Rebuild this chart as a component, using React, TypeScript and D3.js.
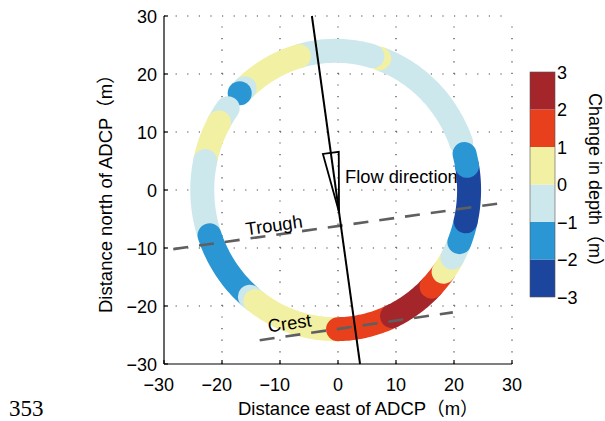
import React from "react";
import * as d3 from "d3";

// ---- data ----
const xTicks = [-30, -20, -10, 0, 10, 20, 30];
const yTicks = [-30, -20, -10, 0, 10, 20, 30];
const gridValues = [-20, -10, 0, 10, 20, 30];
const colorBounds = [-3, -2, -1, 0, 1, 2, 3];
const colorTickLabels = ["−3", "−2", "−1", "0", "1", "2", "3"];

// track segments (angle along the survey circle, degrees ccw from east) and change in depth (m)
const segStart = [20, 71, 74, 106, 133, 136, 144, 151, 168, 199, 230, 233, 271, 295, 316, 324, 331, 338, 347, 370];
const segEnd = [70, 71, 106, 133, 136, 136, 151, 168, 199, 230, 233, 271, 295, 316, 324, 331, 338, 347, 370, 375];
const segChange = [-0.5, 0.5, -0.5, 0.5, -0.5, -1.5, -0.5, 0.5, -0.5, -1.5, -0.5, 0.5, 1.5, 2.5, 1.5, 0.5, -0.5, -1.5, -2.5, -1.5];
const trackCenter = [-0.4, 0];
const trackRadius = [23, 24];

// flow direction line (data coords) and arrowhead (y positions along the line)
const flowX = [-4.5, 3.8];
const flowY = [30, -30];
const arrowBaseY = 6.4;
const arrowTipY = -3.8;

// trough and crest lines
const troughX = [-28.4, 29.3];
const troughY = [-10.2, -2.1];
const crestX = [-13.5, 19.8];
const crestY = [-25.9, -21.1];

const palette = ["#1c459e", "#2b96d4", "#cde8ec", "#f2f0a2", "#e8401c", "#a5262a"];

const FONT = "'Liberation Sans', Arial, 'Noto Sans CJK SC', sans-serif";

export default function App() {
  const x = d3.scaleLinear().domain([-30, 30]).range([164, 512]);
  const y = d3.scaleLinear().domain([-30, 30]).range([364, 16]);
  const cb = d3.scaleLinear().domain([-3, 3]).range([297, 72]);
  const color = d3.scaleThreshold<number, string>().domain([-2, -1, 0, 1, 2]).range(palette);

  const line = d3.line<[number, number]>().x((d) => x(d[0])).y((d) => y(d[1]));

  const segPath = (a0: number, a1: number) => {
    const pts: [number, number][] = [];
    const n = Math.max(1, Math.ceil(a1 - a0));
    for (let i = 0; i <= n; i++) {
      const a = ((a0 + ((a1 - a0) * i) / n) * Math.PI) / 180;
      pts.push([trackCenter[0] + trackRadius[0] * Math.cos(a), trackCenter[1] + trackRadius[1] * Math.sin(a)]);
    }
    return line(pts) as string;
  };

  const flowAt = (yy: number) => flowX[0] + ((flowX[1] - flowX[0]) * (yy - flowY[0])) / (flowY[1] - flowY[0]);
  const bx = x(flowAt(arrowBaseY)), by = y(arrowBaseY);
  const tx = x(flowAt(arrowTipY)), ty = y(arrowTipY);
  const dx = tx - bx, dy = ty - by, len = Math.hypot(dx, dy);
  const px = -dy / len, py = dx / len;
  const hw = 8;
  const arrowPts = `${bx + px * hw},${by + py * hw} ${tx},${ty} ${bx - px * hw},${by - py * hw}`;

  const troughAng = (Math.atan2(y(troughY[1]) - y(troughY[0]), x(troughX[1]) - x(troughX[0])) * 180) / Math.PI;
  const crestAng = (Math.atan2(y(crestY[1]) - y(crestY[0]), x(crestX[1]) - x(crestX[0])) * 180) / Math.PI;

  const digitW = 10.0;

  return (
    <svg width={605} height={421} style={{ position: "absolute", left: 0, top: 0, background: "#fff" }} fontFamily={FONT}>
      <rect x={0} y={0} width={605} height={421} fill="#fff" />
      {/* grid */}
      <g stroke="#444" strokeWidth={1.2} strokeDasharray="1.2 10.4" fill="none">
        {gridValues.map((v) => (
          <line key={"gx" + v} x1={x(v)} x2={x(v)} y1={y(-30)} y2={y(30)} />
        ))}
        {gridValues.map((v) => (
          <line key={"gy" + v} x1={x(-30)} x2={x(30)} y1={y(v)} y2={y(v)} />
        ))}
      </g>
      {/* ring */}
      <g fill="none" strokeWidth={24} strokeLinecap="round" strokeLinejoin="round">
        {segStart.map((s, i) => (
          <path key={"s" + i} d={segPath(s, segEnd[i])} stroke={color(segChange[i])} />
        ))}
      </g>
      {/* trough & crest */}
      <g stroke="#5f5f5f" strokeWidth={2.6} strokeDasharray="15 11" fill="none">
        <line x1={x(troughX[0])} y1={y(troughY[0])} x2={x(troughX[1])} y2={y(troughY[1])} />
        <line x1={x(crestX[0])} y1={y(crestY[0])} x2={x(crestX[1])} y2={y(crestY[1])} />
      </g>
      {/* flow */}
      <line x1={x(flowX[0])} y1={y(flowY[0])} x2={x(flowX[1])} y2={y(flowY[1])} stroke="#000" strokeWidth={2} />
      <polygon points={arrowPts} fill="none" stroke="#000" strokeWidth={1.8} strokeLinejoin="miter" />
      {/* axes */}
      <g stroke="#000" strokeWidth={1.2}>
        <line x1={x(-30)} x2={x(-30)} y1={y(-30)} y2={y(30)} />
        <line x1={x(-30)} x2={x(30)} y1={y(-30)} y2={y(-30)} />
        {xTicks.map((v) => (
          <line key={"tx" + v} x1={x(v)} x2={x(v)} y1={y(-30)} y2={y(-30) - 4} />
        ))}
        {yTicks.map((v) => (
          <line key={"ty" + v} x1={x(-30)} x2={x(-30) + 4} y1={y(v)} y2={y(v)} />
        ))}
      </g>
      <g fontSize={18} fill="#000">
        {xTicks.map((v) => {
          const digits = String(Math.abs(v));
          return (
            <g key={"lx" + v}>
              <text x={x(v)} y={391} textAnchor="middle">{digits}</text>
              {v < 0 && (
                <text x={x(v) - (digits.length * digitW) / 2} y={391} textAnchor="end">−</text>
              )}
            </g>
          );
        })}
        {yTicks.map((v) => (
          <text key={"ly" + v} x={157} y={y(v) + 6.5} textAnchor="end">
            {v < 0 ? "−" + Math.abs(v) : String(v)}
          </text>
        ))}
      </g>
      {/* axis titles */}
      <text x={238} y={415} textAnchor="start" fontSize={18.5}>Distance east of ADCP（m）</text>
      <text transform={`translate(112,313) rotate(-90)`} textAnchor="start" fontSize={18.5}>Distance north of ADCP（m）</text>
      {/* annotations */}
      <text x={345} y={183} fontSize={18.3}>Flow direction</text>
      <text transform={`translate(274,225) rotate(${troughAng}) translate(0,6.5)`} textAnchor="middle" fontSize={18.3}>Trough</text>
      <text transform={`translate(289.5,323) rotate(${crestAng}) translate(0,6.5)`} textAnchor="middle" fontSize={18.3}>Crest</text>
      {/* colorbar */}
      <g>
        {palette.map((c, i) => (
          <rect key={"cb" + i} x={530} width={25} y={cb(colorBounds[i + 1])} height={cb(colorBounds[i]) - cb(colorBounds[i + 1])} fill={c} />
        ))}
        <rect x={530} y={cb(3)} width={25} height={cb(-3) - cb(3)} fill="none" stroke="#555" strokeWidth={0.6} />
        {colorBounds.map((v, i) => (
          <text key={"cl" + v} x={557} y={cb(v) + 6.5} fontSize={18}>{colorTickLabels[i]}</text>
        ))}
        <text transform={`translate(589,93) rotate(90)`} textAnchor="start" fontSize={18}>Change in depth（m）</text>
      </g>
      <text x={9} y={416} fontSize={23} fontFamily="'Liberation Serif', 'Times New Roman', serif">353</text>
    </svg>
  );
}
